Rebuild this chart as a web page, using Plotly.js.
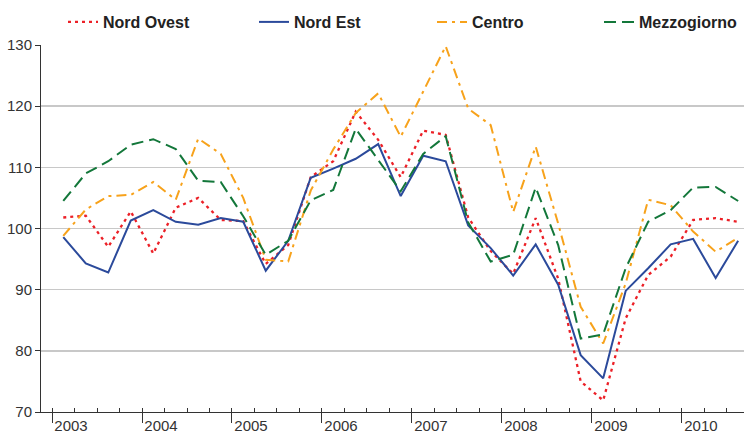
<!DOCTYPE html>
<html>
<head>
<meta charset="utf-8">
<script src="https://cdn.plot.ly/plotly-3.0.1.min.js"></script>
<style>
  html, body { margin: 0; padding: 0; background: #fff; }
  #chart { width: 744px; height: 434px; }
</style>
</head>
<body>
<div id="chart"></div>
<script>
// Quarterly observations, 2003 Q1 .. 2010 Q3
const quarters = [
  "2003T1","2003T2","2003T3","2003T4",
  "2004T1","2004T2","2004T3","2004T4",
  "2005T1","2005T2","2005T3","2005T4",
  "2006T1","2006T2","2006T3","2006T4",
  "2007T1","2007T2","2007T3","2007T4",
  "2008T1","2008T2","2008T3","2008T4",
  "2009T1","2009T2","2009T3","2009T4",
  "2010T1","2010T2","2010T3"
];
const years = ["2003","2004","2005","2006","2007","2008","2009","2010"];

const nordOvest = [101.8,102.1,97.0,102.8,95.9,103.4,105.0,101.4,101.2,94.2,97.3,108.4,111.0,119.1,114.5,108.4,116.0,115.3,101.8,96.3,92.6,101.7,91.8,75.0,71.9,85.3,92.4,95.4,101.4,101.7,101.1];
const nordEst   = [98.6,94.3,92.8,101.3,103.0,101.1,100.6,101.7,101.1,93.1,98.0,108.3,109.8,111.4,113.8,105.3,111.9,111.0,100.5,96.8,92.3,97.4,90.8,79.3,75.5,89.8,93.5,97.4,98.3,91.9,98.0];
const centro    = [98.8,103.1,105.3,105.5,107.6,104.7,114.7,112.2,105.0,94.9,94.6,106.2,112.9,118.9,122.1,115.0,122.4,129.8,119.6,116.9,102.7,113.4,100.8,87.2,81.2,91.0,104.7,103.8,99.5,96.2,98.5];
const mezzogiorno = [104.5,109.0,111.0,113.7,114.6,113.0,107.8,107.6,102.0,95.7,98.0,104.6,106.3,116.3,111.2,106.1,112.2,115.1,101.0,94.6,95.7,106.7,97.3,82.0,82.7,93.5,101.1,103.0,106.7,106.8,104.5];

const xPos = quarters.map((q, i) => i);
const yearTickPos = years.map((y, k) => k * 4 - 0.5);

const FONT = "Liberation Sans, Arial, Helvetica, sans-serif";

const traces = [
  {name: "Nord Ovest", y: nordOvest, color: "#EC2027", dash: "3px,4px", width: 2.3, lw: 146},
  {name: "Nord Est", y: nordEst, color: "#2B4A9B", dash: "solid", width: 2, lw: 133},
  {name: "Centro", y: centro, color: "#F7A21B", dash: "10px,5px,3px,5px", width: 2, lw: 122},
  {name: "Mezzogiorno", y: mezzogiorno, color: "#13773A", dash: "12px,6px", width: 2, lw: 97}
].map(s => ({
  type: "scatter", mode: "lines", name: s.name,
  x: xPos, y: s.y,
  line: {color: s.color, dash: s.dash, width: s.width},
  legendwidth: s.lw,
  hoverinfo: "skip"
}));

const layout = {
  width: 744, height: 434,
  margin: {l: 41, r: 0, t: 45, b: 22, pad: 0, autoexpand: false},
  paper_bgcolor: "#fff", plot_bgcolor: "#fff",
  font: {family: FONT, size: 15, color: "#333"},
  showlegend: true,
  legend: {
    orientation: "h",
    xref: "container", yref: "container",
    x: 63/744, xanchor: "left",
    y: 1 - 22/434, yanchor: "middle",
    font: {family: FONT, size: 16, color: "#222", weight: "bold"},
    bgcolor: "rgba(0,0,0,0)", borderwidth: 0,
    traceorder: "normal"
  },
  xaxis: {
    range: [-0.99, 30.26],
    tickmode: "array", tickvals: yearTickPos, ticktext: years,
    ticks: "outside", ticklen: 10, tickwidth: 1, tickcolor: "#333",
    ticklabelshift: 19, ticklabelstandoff: -10,
    minor: {tick0: 0.5, dtick: 1, ticks: "inside", ticklen: 4, tickwidth: 1, tickcolor: "#333", showgrid: false},
    showgrid: false, zeroline: false,
    showline: true, linecolor: "#333", linewidth: 1,
    tickfont: {size: 15, color: "#333"},
    automargin: false,
    fixedrange: true
  },
  yaxis: {
    range: [70, 130],
    tickmode: "array", tickvals: [70,80,90,100,110,120,130],
    ticks: "outside", ticklen: 5, tickwidth: 1, tickcolor: "#333",
    showgrid: true, gridcolor: "#c8c8c8", gridwidth: 1.5,
    zeroline: false,
    showline: true, linecolor: "#333", linewidth: 1,
    tickfont: {size: 15, color: "#333"},
    automargin: false,
    fixedrange: true
  }
};

Plotly.newPlot("chart", traces, layout, {displayModeBar: false, staticPlot: true});
</script>
</body>
</html>
